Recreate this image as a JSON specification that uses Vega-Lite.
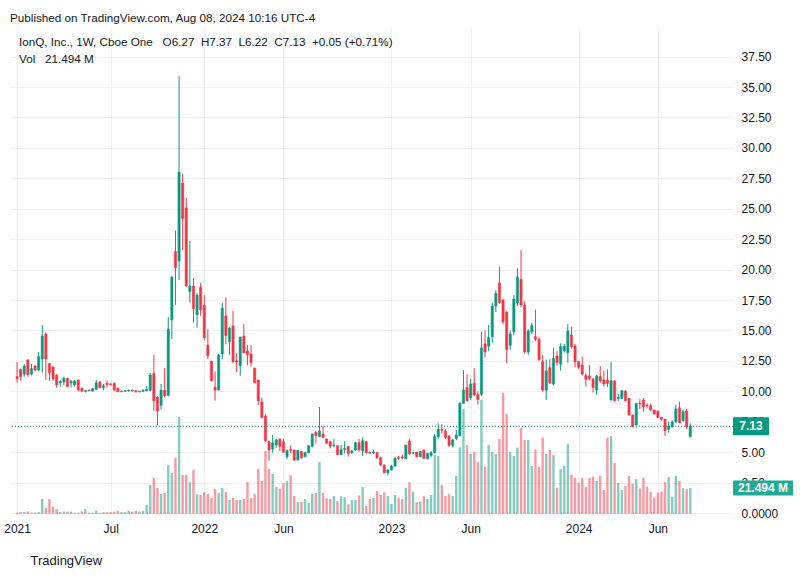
{
  "$schema": "https://vega.github.io/schema/vega-lite/v6.json",
  "width": 723,
  "height": 487,
  "autosize": {"type": "none"},
  "padding": {"left": 10, "top": 27, "right": 74, "bottom": 64},
  "background": "white",
  "title": {
    "text": "Published on TradingView.com, Aug 08, 2024 10:16 UTC-4",
    "subtitle": ["\u2800IonQ, Inc., 1W, Cboe One\u00a0\u00a0\u00a0O6.27\u00a0\u00a0H7.37\u00a0\u00a0L6.22\u00a0\u00a0C7.13\u00a0\u00a0+0.05 (+0.71%)", "\u2800Vol\u00a0\u00a0\u00a021.494 M"],
    "anchor": "start",
    "frame": "group",
    "offset": -39,
    "font": "Liberation Sans",
    "fontSize": 11.7,
    "fontWeight": "normal",
    "color": "#131722",
    "subtitleFont": "Liberation Sans",
    "subtitleFontSize": 11.7,
    "subtitleColor": "#131722",
    "subtitlePadding": 13,
    "subtitleLineHeight": 17
  },
  "datasets": {
    "weekly": [
      {"d":"2021-01-04","o":11.2,"h":12.4,"l":10.7,"c":11.05,"v":1.1},
      {"d":"2021-01-11","o":11.8,"h":11.85,"l":10.87,"c":11.2,"v":1.6},
      {"d":"2021-01-18","o":11.42,"h":12.24,"l":11.2,"c":12.08,"v":1.6},
      {"d":"2021-01-25","o":12.57,"h":12.65,"l":11.2,"c":11.36,"v":2.2},
      {"d":"2021-02-01","o":11.42,"h":12.24,"l":11.3,"c":11.86,"v":1.1},
      {"d":"2021-02-08","o":12.08,"h":12.16,"l":11.64,"c":11.75,"v":1.1},
      {"d":"2021-02-15","o":11.75,"h":13.23,"l":11.64,"c":12.84,"v":1.6},
      {"d":"2021-02-22","o":12.65,"h":15.45,"l":11.53,"c":14.54,"v":12.4},
      {"d":"2021-03-01","o":14.7,"h":14.85,"l":10.93,"c":12.65,"v":5.0},
      {"d":"2021-03-08","o":12.27,"h":12.33,"l":10.87,"c":11.53,"v":12.4},
      {"d":"2021-03-15","o":12.0,"h":12.05,"l":10.87,"c":11.04,"v":6.1},
      {"d":"2021-03-22","o":11.34,"h":11.4,"l":10.3,"c":10.52,"v":4.1},
      {"d":"2021-03-29","o":10.7,"h":10.93,"l":10.38,"c":10.8,"v":1.6},
      {"d":"2021-04-05","o":10.76,"h":11.2,"l":10.49,"c":11.07,"v":2.0},
      {"d":"2021-04-12","o":11.07,"h":11.1,"l":10.38,"c":10.38,"v":2.0},
      {"d":"2021-04-19","o":10.68,"h":10.93,"l":10.3,"c":10.8,"v":2.0},
      {"d":"2021-04-26","o":10.54,"h":10.93,"l":10.38,"c":10.85,"v":1.1},
      {"d":"2021-05-03","o":10.93,"h":10.95,"l":10.0,"c":10.1,"v":1.1},
      {"d":"2021-05-10","o":10.25,"h":10.3,"l":9.95,"c":10.02,"v":2.2},
      {"d":"2021-05-17","o":10.0,"h":10.1,"l":9.9,"c":10.08,"v":4.1},
      {"d":"2021-05-24","o":10.1,"h":10.12,"l":10.0,"c":10.05,"v":1.1},
      {"d":"2021-05-31","o":10.02,"h":10.25,"l":9.98,"c":10.2,"v":1.1},
      {"d":"2021-06-07","o":10.17,"h":10.93,"l":10.1,"c":10.7,"v":2.8},
      {"d":"2021-06-14","o":10.76,"h":10.85,"l":10.23,"c":10.3,"v":1.1},
      {"d":"2021-06-21","o":10.3,"h":10.6,"l":10.1,"c":10.45,"v":1.6},
      {"d":"2021-06-28","o":10.66,"h":10.9,"l":10.3,"c":10.55,"v":1.6},
      {"d":"2021-07-05","o":10.6,"h":10.7,"l":10.45,"c":10.55,"v":1.6},
      {"d":"2021-07-12","o":10.66,"h":10.7,"l":10.05,"c":10.1,"v":1.9},
      {"d":"2021-07-19","o":10.25,"h":10.3,"l":9.92,"c":9.97,"v":2.8},
      {"d":"2021-07-26","o":9.97,"h":10.05,"l":9.92,"c":10.02,"v":1.6},
      {"d":"2021-08-02","o":10.0,"h":10.08,"l":9.95,"c":10.05,"v":1.6},
      {"d":"2021-08-09","o":10.03,"h":10.12,"l":9.98,"c":10.1,"v":2.8},
      {"d":"2021-08-16","o":10.1,"h":10.12,"l":9.98,"c":10.02,"v":1.9},
      {"d":"2021-08-23","o":10.05,"h":10.08,"l":9.9,"c":9.95,"v":2.5},
      {"d":"2021-08-30","o":9.95,"h":10.05,"l":9.92,"c":10.0,"v":2.0},
      {"d":"2021-09-06","o":10.0,"h":10.15,"l":9.97,"c":10.1,"v":2.5},
      {"d":"2021-09-13","o":10.05,"h":10.45,"l":10.0,"c":10.15,"v":7.4},
      {"d":"2021-09-20","o":10.08,"h":11.5,"l":10.0,"c":11.34,"v":24.0},
      {"d":"2021-09-27","o":11.48,"h":13.0,"l":8.4,"c":9.23,"v":29.8},
      {"d":"2021-10-04","o":9.5,"h":9.6,"l":7.2,"c":8.4,"v":21.5},
      {"d":"2021-10-11","o":8.85,"h":10.6,"l":8.5,"c":10.1,"v":16.5},
      {"d":"2021-10-18","o":10.1,"h":11.9,"l":9.5,"c":9.66,"v":17.4},
      {"d":"2021-10-25","o":9.66,"h":16.1,"l":9.6,"c":15.1,"v":40.5},
      {"d":"2021-11-01","o":15.88,"h":19.47,"l":14.3,"c":19.37,"v":33.9},
      {"d":"2021-11-08","o":21.5,"h":23.2,"l":17.1,"c":20.15,"v":46.3},
      {"d":"2021-11-15","o":20.7,"h":35.9,"l":19.15,"c":28.0,"v":80.2},
      {"d":"2021-11-22","o":27.1,"h":27.85,"l":21.6,"c":24.2,"v":32.2},
      {"d":"2021-11-29","o":25.06,"h":25.9,"l":18.6,"c":18.65,"v":32.2},
      {"d":"2021-12-06","o":18.2,"h":22.35,"l":17.3,"c":18.65,"v":26.4},
      {"d":"2021-12-13","o":18.65,"h":19.3,"l":15.64,"c":16.8,"v":36.4},
      {"d":"2021-12-20","o":16.3,"h":18.05,"l":15.23,"c":17.9,"v":16.5},
      {"d":"2021-12-27","o":18.55,"h":18.9,"l":16.2,"c":16.7,"v":15.7},
      {"d":"2022-01-03","o":17.07,"h":17.9,"l":14.2,"c":14.4,"v":18.2},
      {"d":"2022-01-10","o":13.78,"h":15.1,"l":12.65,"c":12.93,"v":16.5},
      {"d":"2022-01-17","o":12.47,"h":12.5,"l":10.8,"c":10.87,"v":13.2},
      {"d":"2022-01-24","o":10.33,"h":11.64,"l":9.23,"c":10.1,"v":20.7},
      {"d":"2022-01-31","o":10.1,"h":13.07,"l":10.1,"c":12.98,"v":17.4},
      {"d":"2022-02-07","o":13.07,"h":17.25,"l":12.63,"c":16.84,"v":21.5},
      {"d":"2022-02-14","o":16.19,"h":17.72,"l":13.86,"c":14.6,"v":18.2},
      {"d":"2022-02-21","o":14.08,"h":15.31,"l":12.98,"c":15.2,"v":11.6},
      {"d":"2022-02-28","o":15.37,"h":16.6,"l":12.3,"c":12.43,"v":13.2},
      {"d":"2022-03-07","o":12.5,"h":13.12,"l":11.59,"c":12.4,"v":11.6},
      {"d":"2022-03-14","o":12.1,"h":14.46,"l":11.28,"c":14.46,"v":11.6},
      {"d":"2022-03-21","o":14.54,"h":15.53,"l":13.12,"c":13.17,"v":12.4},
      {"d":"2022-03-28","o":13.3,"h":13.78,"l":12.14,"c":13.0,"v":26.4},
      {"d":"2022-04-04","o":13.07,"h":13.8,"l":12.02,"c":12.35,"v":13.2},
      {"d":"2022-04-11","o":11.9,"h":11.95,"l":10.7,"c":10.7,"v":16.4},
      {"d":"2022-04-18","o":10.93,"h":10.95,"l":8.87,"c":9.23,"v":37.2},
      {"d":"2022-04-25","o":9.12,"h":9.47,"l":7.78,"c":7.86,"v":27.3},
      {"d":"2022-05-02","o":7.97,"h":8.1,"l":5.85,"c":5.92,"v":52.1},
      {"d":"2022-05-09","o":5.86,"h":5.95,"l":4.3,"c":5.2,"v":37.2},
      {"d":"2022-05-16","o":5.26,"h":6.4,"l":4.95,"c":5.76,"v":33.1},
      {"d":"2022-05-23","o":5.59,"h":6.1,"l":5.35,"c":6.0,"v":22.3},
      {"d":"2022-05-30","o":6.08,"h":6.12,"l":5.1,"c":5.48,"v":20.7},
      {"d":"2022-06-06","o":5.86,"h":6.08,"l":4.96,"c":4.99,"v":25.6},
      {"d":"2022-06-13","o":4.63,"h":5.23,"l":4.41,"c":5.12,"v":27.3},
      {"d":"2022-06-20","o":5.23,"h":5.56,"l":4.9,"c":5.15,"v":32.0},
      {"d":"2022-06-27","o":5.18,"h":5.2,"l":4.27,"c":4.35,"v":14.9},
      {"d":"2022-07-04","o":4.35,"h":5.18,"l":4.33,"c":5.15,"v":9.9},
      {"d":"2022-07-11","o":5.04,"h":5.1,"l":4.46,"c":4.54,"v":9.9},
      {"d":"2022-07-18","o":4.63,"h":5.04,"l":4.57,"c":4.96,"v":12.4},
      {"d":"2022-07-25","o":4.96,"h":5.59,"l":4.9,"c":5.53,"v":9.1},
      {"d":"2022-08-01","o":5.48,"h":6.55,"l":5.4,"c":6.49,"v":16.5},
      {"d":"2022-08-08","o":6.63,"h":6.74,"l":5.7,"c":6.35,"v":17.4},
      {"d":"2022-08-15","o":6.27,"h":8.71,"l":6.27,"c":6.74,"v":43.0},
      {"d":"2022-08-22","o":6.49,"h":7.17,"l":6.16,"c":6.22,"v":17.4},
      {"d":"2022-08-29","o":6.08,"h":6.1,"l":5.67,"c":5.73,"v":13.0},
      {"d":"2022-09-05","o":5.86,"h":5.94,"l":5.3,"c":5.5,"v":12.4},
      {"d":"2022-09-12","o":5.55,"h":6.08,"l":5.4,"c":5.6,"v":14.9},
      {"d":"2022-09-19","o":5.53,"h":5.55,"l":4.79,"c":4.79,"v":10.7},
      {"d":"2022-09-26","o":4.79,"h":5.6,"l":4.75,"c":5.2,"v":14.6},
      {"d":"2022-10-03","o":5.23,"h":5.9,"l":4.9,"c":5.31,"v":13.8},
      {"d":"2022-10-10","o":5.45,"h":5.5,"l":4.63,"c":4.9,"v":8.0},
      {"d":"2022-10-17","o":4.96,"h":5.2,"l":4.85,"c":5.1,"v":11.6},
      {"d":"2022-10-24","o":5.18,"h":5.86,"l":5.1,"c":5.78,"v":11.6},
      {"d":"2022-10-31","o":5.78,"h":6.1,"l":5.04,"c":5.18,"v":15.4},
      {"d":"2022-11-07","o":5.12,"h":6.22,"l":4.68,"c":5.94,"v":22.3},
      {"d":"2022-11-14","o":5.86,"h":5.9,"l":4.9,"c":4.96,"v":6.6},
      {"d":"2022-11-21","o":5.0,"h":5.05,"l":4.85,"c":4.93,"v":12.4},
      {"d":"2022-11-28","o":4.93,"h":5.2,"l":4.85,"c":5.0,"v":13.2},
      {"d":"2022-12-05","o":4.96,"h":5.04,"l":4.43,"c":4.54,"v":19.0},
      {"d":"2022-12-12","o":4.54,"h":4.6,"l":3.86,"c":3.94,"v":15.7},
      {"d":"2022-12-19","o":3.94,"h":4.0,"l":3.26,"c":3.31,"v":17.9},
      {"d":"2022-12-26","o":3.31,"h":3.6,"l":3.1,"c":3.53,"v":14.9},
      {"d":"2023-01-02","o":3.53,"h":3.95,"l":3.5,"c":3.86,"v":8.3},
      {"d":"2023-01-09","o":3.86,"h":4.57,"l":3.8,"c":4.49,"v":15.7},
      {"d":"2023-01-16","o":4.54,"h":4.7,"l":4.35,"c":4.49,"v":13.5},
      {"d":"2023-01-23","o":4.62,"h":4.8,"l":4.4,"c":4.52,"v":12.4},
      {"d":"2023-01-30","o":4.46,"h":5.59,"l":4.46,"c":5.59,"v":21.8},
      {"d":"2023-02-06","o":5.92,"h":6.08,"l":4.79,"c":4.85,"v":26.4},
      {"d":"2023-02-13","o":4.93,"h":5.0,"l":4.85,"c":4.96,"v":18.5},
      {"d":"2023-02-20","o":5.01,"h":5.04,"l":4.57,"c":4.63,"v":9.6},
      {"d":"2023-02-27","o":4.63,"h":5.1,"l":4.6,"c":5.04,"v":10.2},
      {"d":"2023-03-06","o":5.18,"h":5.23,"l":4.43,"c":4.49,"v":14.6},
      {"d":"2023-03-13","o":4.46,"h":4.95,"l":4.4,"c":4.9,"v":12.4},
      {"d":"2023-03-20","o":4.74,"h":5.1,"l":4.6,"c":4.96,"v":15.7},
      {"d":"2023-03-27","o":4.96,"h":6.5,"l":4.9,"c":6.27,"v":48.8},
      {"d":"2023-04-03","o":6.27,"h":7.37,"l":6.1,"c":6.88,"v":47.9},
      {"d":"2023-04-10","o":6.88,"h":7.3,"l":6.5,"c":6.8,"v":24.0},
      {"d":"2023-04-17","o":6.74,"h":6.9,"l":6.1,"c":6.22,"v":14.9},
      {"d":"2023-04-24","o":6.33,"h":6.4,"l":5.43,"c":5.56,"v":16.5},
      {"d":"2023-05-01","o":5.56,"h":6.1,"l":5.4,"c":6.0,"v":14.9},
      {"d":"2023-05-08","o":6.14,"h":6.82,"l":6.0,"c":6.41,"v":31.4},
      {"d":"2023-05-15","o":6.35,"h":9.1,"l":6.3,"c":9.01,"v":55.1},
      {"d":"2023-05-22","o":9.01,"h":11.75,"l":9.0,"c":10.1,"v":86.8},
      {"d":"2023-05-29","o":10.3,"h":11.4,"l":9.15,"c":9.23,"v":57.0},
      {"d":"2023-06-05","o":9.47,"h":11.0,"l":9.3,"c":10.6,"v":49.6},
      {"d":"2023-06-12","o":10.66,"h":11.9,"l":9.6,"c":9.7,"v":51.5},
      {"d":"2023-06-19","o":9.72,"h":10.0,"l":8.9,"c":9.34,"v":43.0},
      {"d":"2023-06-26","o":9.75,"h":14.9,"l":9.6,"c":13.56,"v":94.2},
      {"d":"2023-07-03","o":13.9,"h":15.0,"l":12.8,"c":13.23,"v":39.1},
      {"d":"2023-07-10","o":13.7,"h":15.45,"l":13.3,"c":14.4,"v":57.0},
      {"d":"2023-07-17","o":14.5,"h":17.3,"l":14.0,"c":17.0,"v":51.5},
      {"d":"2023-07-24","o":17.0,"h":18.3,"l":16.5,"c":18.05,"v":49.6},
      {"d":"2023-07-31","o":18.9,"h":20.24,"l":17.2,"c":17.3,"v":62.0},
      {"d":"2023-08-07","o":17.5,"h":17.6,"l":15.5,"c":15.7,"v":100.0},
      {"d":"2023-08-14","o":16.5,"h":16.6,"l":12.3,"c":13.45,"v":82.6},
      {"d":"2023-08-21","o":13.78,"h":15.0,"l":13.4,"c":14.71,"v":51.5},
      {"d":"2023-08-28","o":14.9,"h":17.9,"l":14.6,"c":17.58,"v":47.9},
      {"d":"2023-09-04","o":17.28,"h":20.1,"l":17.0,"c":19.37,"v":54.8},
      {"d":"2023-09-11","o":19.2,"h":21.6,"l":16.9,"c":17.09,"v":71.1},
      {"d":"2023-09-18","o":17.07,"h":17.4,"l":13.1,"c":13.23,"v":61.2},
      {"d":"2023-09-25","o":13.23,"h":15.1,"l":13.0,"c":14.95,"v":61.2},
      {"d":"2023-10-02","o":14.9,"h":15.6,"l":14.7,"c":15.39,"v":39.7},
      {"d":"2023-10-09","o":14.49,"h":16.7,"l":14.1,"c":14.27,"v":53.4},
      {"d":"2023-10-16","o":14.27,"h":14.5,"l":12.5,"c":12.6,"v":39.1},
      {"d":"2023-10-23","o":12.43,"h":12.98,"l":9.97,"c":10.1,"v":63.1},
      {"d":"2023-10-30","o":10.1,"h":12.6,"l":9.3,"c":11.67,"v":49.6},
      {"d":"2023-11-06","o":11.94,"h":12.65,"l":10.6,"c":10.7,"v":52.9},
      {"d":"2023-11-13","o":10.6,"h":13.6,"l":10.5,"c":12.71,"v":48.8},
      {"d":"2023-11-20","o":12.9,"h":13.3,"l":12.1,"c":12.35,"v":21.7},
      {"d":"2023-11-27","o":12.24,"h":13.95,"l":11.7,"c":13.66,"v":37.2},
      {"d":"2023-12-04","o":13.34,"h":13.9,"l":13.2,"c":13.72,"v":39.9},
      {"d":"2023-12-11","o":13.17,"h":15.53,"l":12.35,"c":14.95,"v":57.9},
      {"d":"2023-12-18","o":14.63,"h":15.3,"l":13.5,"c":13.67,"v":32.5},
      {"d":"2023-12-25","o":13.72,"h":13.9,"l":12.0,"c":12.43,"v":29.8},
      {"d":"2024-01-01","o":12.43,"h":12.5,"l":11.8,"c":11.97,"v":25.9},
      {"d":"2024-01-08","o":12.16,"h":12.84,"l":11.3,"c":11.42,"v":29.8},
      {"d":"2024-01-15","o":11.28,"h":11.48,"l":10.38,"c":10.99,"v":22.3},
      {"d":"2024-01-22","o":11.26,"h":12.16,"l":10.9,"c":11.04,"v":29.8},
      {"d":"2024-01-29","o":10.99,"h":11.1,"l":9.9,"c":10.3,"v":30.9},
      {"d":"2024-02-05","o":10.1,"h":11.34,"l":9.7,"c":11.26,"v":27.3},
      {"d":"2024-02-12","o":11.2,"h":12.08,"l":10.7,"c":10.85,"v":31.7},
      {"d":"2024-02-19","o":10.93,"h":11.7,"l":10.4,"c":10.6,"v":19.8},
      {"d":"2024-02-26","o":10.93,"h":11.8,"l":10.35,"c":10.66,"v":63.1},
      {"d":"2024-03-04","o":9.29,"h":12.43,"l":9.23,"c":10.87,"v":64.5},
      {"d":"2024-03-11","o":10.85,"h":10.9,"l":9.15,"c":9.23,"v":42.1},
      {"d":"2024-03-18","o":9.4,"h":9.8,"l":9.2,"c":9.5,"v":25.6},
      {"d":"2024-03-25","o":9.42,"h":10.1,"l":9.4,"c":10.05,"v":19.8},
      {"d":"2024-04-01","o":10.02,"h":10.1,"l":9.2,"c":9.23,"v":23.1},
      {"d":"2024-04-08","o":9.42,"h":9.45,"l":8.0,"c":8.05,"v":31.4},
      {"d":"2024-04-15","o":8.05,"h":8.1,"l":7.05,"c":7.09,"v":25.1},
      {"d":"2024-04-22","o":7.23,"h":9.01,"l":7.2,"c":9.01,"v":28.9},
      {"d":"2024-04-29","o":9.01,"h":9.37,"l":8.55,"c":8.96,"v":21.2},
      {"d":"2024-05-06","o":9.29,"h":9.45,"l":8.3,"c":8.73,"v":29.8},
      {"d":"2024-05-13","o":8.87,"h":9.0,"l":8.6,"c":8.82,"v":22.6},
      {"d":"2024-05-20","o":8.82,"h":9.0,"l":8.4,"c":8.46,"v":18.2},
      {"d":"2024-05-27","o":8.46,"h":8.5,"l":8.1,"c":8.13,"v":13.5},
      {"d":"2024-06-03","o":8.38,"h":8.4,"l":7.8,"c":7.86,"v":17.6},
      {"d":"2024-06-10","o":7.86,"h":7.9,"l":7.6,"c":7.7,"v":18.5},
      {"d":"2024-06-17","o":7.7,"h":7.75,"l":6.33,"c":6.76,"v":26.4},
      {"d":"2024-06-24","o":6.88,"h":7.5,"l":6.6,"c":7.15,"v":30.6},
      {"d":"2024-07-01","o":7.09,"h":7.6,"l":7.0,"c":7.48,"v":14.0},
      {"d":"2024-07-08","o":7.5,"h":8.87,"l":7.4,"c":8.55,"v":31.4},
      {"d":"2024-07-15","o":8.65,"h":9.15,"l":7.4,"c":7.42,"v":27.3},
      {"d":"2024-07-22","o":7.58,"h":8.5,"l":7.5,"c":8.32,"v":21.5},
      {"d":"2024-07-29","o":8.38,"h":8.55,"l":6.9,"c":7.08,"v":20.7},
      {"d":"2024-08-05","o":6.27,"h":7.37,"l":6.22,"c":7.13,"v":21.494}
    ],
    "last": [{"c": 7.13, "v": 21.494}]
  },
  "resolve": {"scale": {"y": "independent"}, "axis": {"y": "independent"}},
  "layer": [
    {
      "layer": [
        {
          "data": {"name": "weekly"},
          "mark": {"type": "bar", "width": 2.4, "opacity": 0.5},
          "encoding": {
            "x": {
              "field": "d", "type": "temporal",
              "scale": {"type": "utc", "domain": [{"year": 2020, "month": 12, "date": 31, "utc": true}, {"year": 2024, "month": 10, "date": 17, "hours": 10, "utc": true}]},
              "axis": {
                "values": [
                  {"year": 2021, "month": 1, "date": 4, "utc": true},
                  {"year": 2021, "month": 7, "date": 5, "utc": true},
                  {"year": 2022, "month": 1, "date": 3, "utc": true},
                  {"year": 2022, "month": 6, "date": 6, "utc": true},
                  {"year": 2023, "month": 1, "date": 2, "utc": true},
                  {"year": 2023, "month": 6, "date": 5, "utc": true},
                  {"year": 2024, "month": 1, "date": 1, "utc": true},
                  {"year": 2024, "month": 6, "date": 3, "utc": true}
                ],
                "labelExpr": "utcmonth(datum.value) == 0 ? utcFormat(datum.value, '%Y') : utcFormat(datum.value, '%b')",
                "labelFlush": false,
                "labelOverlap": false,
                "labelPadding": 9,
                "grid": true,
                "title": "\u2800\u2800TradingView",
                "titleAnchor": "start",
                "titleAlign": "left",
                "titleFont": "Liberation Sans",
                "titleFontSize": 13,
                "titleFontWeight": "normal",
                "titleColor": "#131722",
                "titlePadding": 20
              }
            },
            "y": {"field": "v", "type": "quantitative", "scale": {"domain": [0, 402.5], "nice": false, "zero": true}, "axis": null},
            "color": {"condition": {"test": "datum.c >= datum.o", "value": "#089981"}, "value": "#f23645"}
          }
        },
        {
          "data": {"name": "last"},
          "mark": {"type": "rect", "color": "#22ab94", "yOffset": -7.5, "y2Offset": 7.5, "x2Offset": 60, "cornerRadius": 1},
          "encoding": {
            "x": {"value": "width"},
            "x2": {"value": "width"},
            "y": {"field": "v", "type": "quantitative"},
            "y2": {"field": "v"}
          }
        },
        {
          "data": {"name": "last"},
          "transform": [{"calculate": "format(datum.v, '.3f') + ' M'", "as": "vlabel"}],
          "mark": {"type": "text", "color": "white", "font": "Liberation Sans", "fontSize": 12, "fontWeight": "bold", "align": "center", "baseline": "middle", "dx": 30},
          "encoding": {
            "x": {"value": "width"},
            "y": {"field": "v", "type": "quantitative"},
            "text": {"field": "vlabel"}
          }
        }
      ]
    },
    {
      "encoding": {
        "y": {
          "type": "quantitative",
          "scale": {"domain": [-0.08, 39.93], "nice": false, "zero": false},
          "axis": {
            "orient": "right",
            "values": [0, 2.5, 5, 7.5, 10, 12.5, 15, 17.5, 20, 22.5, 25, 27.5, 30, 32.5, 35, 37.5],
            "labelExpr": "datum.value == 0 ? '0.0000' : format(datum.value, '.2f')",
            "labelPadding": 8,
            "labelFlush": false,
            "labelOverlap": false,
            "labelBound": false,
            "grid": true,
            "title": null
          }
        }
      },
      "layer": [
        {
          "data": {"name": "weekly"},
          "mark": {"type": "rule", "strokeWidth": 1},
          "encoding": {
            "x": {"field": "d", "type": "temporal"},
            "y": {"field": "l"},
            "y2": {"field": "h"},
            "color": {"condition": {"test": "datum.c >= datum.o", "value": "#089981"}, "value": "#f23645"}
          }
        },
        {
          "data": {"name": "weekly"},
          "mark": {"type": "bar", "width": 2.2, "strokeWidth": 0.6},
          "encoding": {
            "x": {"field": "d", "type": "temporal"},
            "y": {"field": "o"},
            "y2": {"field": "c"},
            "color": {"condition": {"test": "datum.c >= datum.o", "value": "#089981"}, "value": "#f23645"},
            "stroke": {"condition": {"test": "datum.c >= datum.o", "value": "#089981"}, "value": "#f23645"}
          }
        },
        {
          "data": {"name": "last"},
          "mark": {"type": "rule", "color": "#089981", "strokeDash": [1, 2], "strokeWidth": 1},
          "encoding": {
            "y": {"field": "c"}
          }
        },
        {
          "data": {"name": "last"},
          "mark": {"type": "rect", "color": "#089981", "yOffset": -9, "y2Offset": 9, "x2Offset": 36, "cornerRadius": 1},
          "encoding": {
            "x": {"value": "width"},
            "x2": {"value": "width"},
            "y": {"field": "c"},
            "y2": {"field": "c"}
          }
        },
        {
          "data": {"name": "last"},
          "mark": {"type": "text", "color": "white", "font": "Liberation Sans", "fontSize": 12, "fontWeight": "bold", "align": "center", "baseline": "middle", "dx": 18},
          "encoding": {
            "x": {"value": "width"},
            "y": {"field": "c"},
            "text": {"field": "c", "type": "quantitative", "format": ".2f"}
          }
        }
      ]
    }
  ],
  "config": {
    "view": {"stroke": null},
    "font": "Liberation Sans",
    "axis": {
      "labelFont": "Liberation Sans",
      "labelFontSize": 12,
      "labelColor": "#131722",
      "gridColor": "#eef0f3",
      "gridWidth": 1,
      "domain": false,
      "ticks": false,
      "tickSize": 0
    }
  }
}
